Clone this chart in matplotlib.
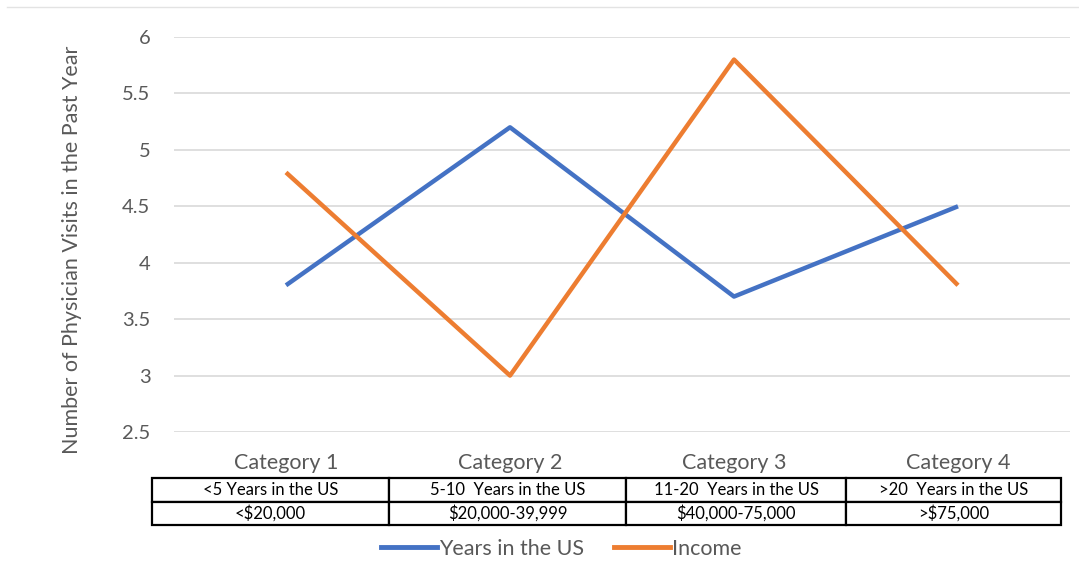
"""Physician visits by years in the US and income — line chart with category table."""

import matplotlib.pyplot as plt
from matplotlib.lines import Line2D

categories = ["Category 1", "Category 2", "Category 3", "Category 4"]
years_in_us = [3.8, 5.2, 3.7, 4.5]
income = [4.8, 3.0, 5.8, 3.8]
years_labels = ["<5 Years in the US", "5-10  Years in the US",
                "11-20  Years in the US", ">20  Years in the US"]
income_labels = ["<$20,000", "$20,000-39,999", "$40,000-75,000", ">$75,000"]
yticks = [2.5, 3, 3.5, 4, 4.5, 5, 5.5, 6]
ytick_labels = ["2.5", "3", "3.5", "4", "4.5", "5", "5.5", "6"]

BLUE = "#4472C4"
ORANGE = "#ED7D31"
GREY_TXT = "#595959"

plt.rcParams["font.family"] = ["Lato", "DejaVu Sans"]

W, H = 1079, 586
fig = plt.figure(figsize=(W / 100, H / 100), dpi=100)

ax = fig.add_axes([174 / W, 1 - 432 / H, (1070 - 174) / W, (432 - 37) / H])
x = list(range(len(categories)))
ax.plot(x, years_in_us, color=BLUE, lw=3.2, solid_capstyle="butt", zorder=3)
ax.plot(x, income, color=ORANGE, lw=3.2, solid_capstyle="butt", zorder=3)

ax.set_xlim(-0.5, len(categories) - 0.5)
ax.set_ylim(2.5, 6)
ax.set_yticks(yticks)
ax.set_yticklabels(ytick_labels, fontsize=14.5, color=GREY_TXT)
ax.set_xticks(x)
ax.set_xticklabels(categories, fontsize=15.5, color=GREY_TXT)
ax.tick_params(axis="y", length=0, pad=17)
ax.tick_params(axis="x", length=0, pad=15)
ax.grid(axis="y", color="#D9D9D9", lw=1.2)
ax.set_axisbelow(True)
for s in ax.spines.values():
    s.set_visible(False)

fig.text(72 / W, 1 - 250 / H, "Number of Physician Visits in the Past Year",
         rotation=90, ha="center", va="center", fontsize=15.5, color=GREY_TXT)

# table under the category labels
tab_ax = fig.add_axes([152 / W, 1 - 525 / H, (1061 - 152) / W, (525 - 478) / H])
tab_ax.axis("off")
tbl = tab_ax.table(cellText=[years_labels, income_labels],
                   colWidths=[237, 237, 220, 215], cellLoc="center",
                   bbox=[0, 0, 1, 1])
tbl.auto_set_font_size(False)
for cell in tbl.get_celld().values():
    cell.set_linewidth(1.6)
    cell.set_edgecolor("black")
    cell.get_text().set_fontsize(12)

handles = [Line2D([], [], color=BLUE, lw=3.5),
           Line2D([], [], color=ORANGE, lw=3.5)]
fig.legend(handles, ["Years in the US", "Income"], loc="center",
           bbox_to_anchor=(561 / W, 1 - 549 / H), ncol=2, frameon=False,
           fontsize=15.5, handlelength=2.6, handletextpad=0.1,
           columnspacing=1.4, labelcolor=GREY_TXT)

# thin separator line at the very top
fig.add_artist(Line2D([7 / W, 1], [1 - 7 / H, 1 - 7 / H], color="#E3E3E3", lw=1))

fig.savefig("out.png", dpi=100)
